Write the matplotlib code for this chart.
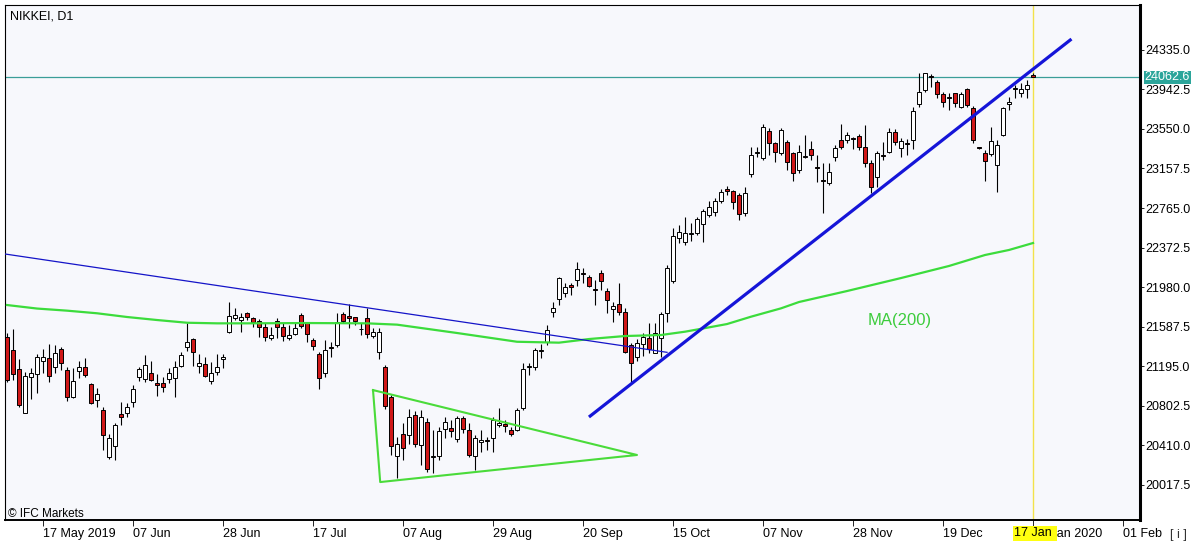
import matplotlib
matplotlib.use('Agg')
import matplotlib.pyplot as plt
from matplotlib.transforms import blended_transform_factory

plt.rcParams['font.family'] = ['Liberation Sans', 'DejaVu Sans']

# daily OHLC, one bar per trading day (index 0 = first visible bar)
opens = [21480, 21354, 21162, 20731, 21089, 21116, 21242, 21272, 21182, 21361,
         21155, 20890, 21142, 21182, 21016, 20857, 20758, 20294, 20403, 20715,
         20725, 20840, 21089, 21066, 21123, 21023, 21023, 21066, 21073, 21195,
         21387, 21463, 21198, 21212, 21049, 21133, 21265, 21536, 21675, 21652,
         21722, 21675, 21642, 21580, 21476, 21642, 21586, 21476, 21513, 21702,
         21619, 21453, 21314, 21123, 21387, 21404, 21709, 21695, 21679, 21563,
         21675, 21496, 21331, 21182, 20884, 20301, 20516, 20509, 20708, 20410,
         20636, 20294, 20301, 20566, 20576, 20467, 20675, 20559, 20301, 20443,
         20460, 20477, 20609, 20616, 20559, 20559, 20775, 21182, 21188, 21344,
         21437, 21735, 21858, 21923, 21997, 22050, 22116, 22076, 21954, 22116,
         21940, 21765, 21811, 21735, 21404, 21288, 21414, 21470, 21327, 21473,
         21725, 22043, 22464, 22430, 22507, 22520, 22606, 22696, 22728, 22838,
         22951, 22934, 22891, 22712, 23103, 23315, 23265, 23533, 23408, 23315,
         23424, 23309, 23143, 23275, 23348, 23166, 23043, 23010, 23275, 23441,
         23441, 23458, 23480, 23368, 23215, 23076, 23292, 23325, 23523, 23358,
         23408, 23441, 23799, 23938, 24077, 24020, 23898, 23871, 23905, 23772,
         23945, 23756, 23368, 23309, 23302, 23193, 23490, 23796, 23951, 23911,
         23945, 24087]
highs = [21526, 21563, 21265, 21138, 21172, 21314, 21364, 21411, 21404, 21381,
         21182, 21172, 21245, 21275, 21023, 20973, 20791, 20519, 20626, 20840,
         20830, 21006, 21182, 21304, 21245, 21113, 21089, 21172, 21245, 21337,
         21625, 21470, 21314, 21288, 21238, 21314, 21314, 21834, 21771, 21722,
         21735, 21685, 21662, 21622, 21586, 21672, 21619, 21602, 21629, 21719,
         21635, 21470, 21337, 21453, 21437, 21719, 21729, 21808, 21685, 21619,
         21776, 21570, 21570, 21205, 20907, 20492, 20626, 20768, 20751, 20758,
         20675, 20559, 20592, 20691, 20658, 20701, 20698, 20626, 20509, 20559,
         20493, 20691, 20775, 20658, 20592, 20775, 21228, 21222, 21377, 21411,
         21602, 21834, 22076, 22017, 22017, 22232, 22166, 22099, 22050, 22149,
         21967, 21834, 22017, 21768, 21420, 21460, 21520, 21625, 21619, 21735,
         22198, 22563, 22596, 22673, 22613, 22673, 22752, 22838, 22861, 22951,
         22984, 22944, 22911, 22977, 23368, 23374, 23600, 23557, 23424, 23557,
         23441, 23325, 23391, 23490, 23434, 23292, 23209, 23209, 23391, 23600,
         23523, 23467, 23500, 23590, 23242, 23334, 23424, 23557, 23547, 23458,
         23448, 23772, 24104, 24110, 24097, 24037, 23921, 23905, 23911, 23921,
         23955, 23779, 23376, 23341, 23567, 23441, 23772, 23871, 23984, 24004,
         24037, 24104]
lows = [21039, 21056, 20791, 20725, 20864, 20924, 21123, 21033, 21129, 21155,
        20850, 20874, 21079, 21089, 20817, 20785, 20360, 20268, 20261, 20609,
        20691, 20785, 21049, 21039, 21046, 20900, 20940, 21023, 20884, 21182,
        21347, 21198, 21123, 21089, 21013, 21106, 21172, 21523, 21652, 21536,
        21652, 21586, 21486, 21446, 21453, 21470, 21446, 21453, 21503, 21570,
        21436, 21354, 20964, 21089, 21287, 21387, 21619, 21570, 21602, 21503,
        21470, 21470, 21262, 20768, 20311, 20079, 20261, 20420, 20393, 20211,
        20145, 20129, 20261, 20477, 20493, 20443, 20526, 20294, 20162, 20343,
        20360, 20343, 20589, 20542, 20500, 20552, 20758, 21106, 21155, 21272,
        21404, 21685, 21801, 21884, 21901, 21990, 22023, 21983, 21801, 21950,
        21719, 21635, 21702, 21324, 21039, 21248, 21294, 21327, 21321, 21282,
        21635, 22017, 22414, 22397, 22440, 22497, 22430, 22679, 22686, 22812,
        22894, 22752, 22646, 22686, 23076, 23275, 23242, 23292, 23225, 23292,
        23143, 23036, 23110, 23259, 23242, 23026, 22712, 22994, 23235, 23348,
        23408, 23348, 23341, 23175, 22917, 22971, 23242, 23309, 23391, 23272,
        23292, 23348, 23772, 23921, 23970, 23855, 23772, 23739, 23772, 23762,
        23772, 23414, 23348, 23036, 23282, 22927, 23480, 23739, 23855, 23865,
        23855, 24064]
closes = [21056, 21113, 20808, 21099, 21123, 21282, 21282, 21099, 21321, 21222,
          20890, 21046, 21182, 21106, 20824, 20917, 20506, 20477, 20609, 20691,
          20785, 20964, 21162, 21202, 21056, 21009, 20989, 21123, 21188, 21304,
          21430, 21337, 21222, 21099, 21129, 21188, 21288, 21692, 21702, 21685,
          21679, 21629, 21586, 21486, 21503, 21586, 21493, 21503, 21570, 21596,
          21510, 21397, 21079, 21354, 21374, 21635, 21642, 21669, 21642, 21558,
          21510, 21530, 21530, 20798, 20400, 20420, 20377, 20685, 20420, 20691,
          20169, 20301, 20549, 20642, 20549, 20681, 20566, 20311, 20477, 20460,
          20447, 20658, 20626, 20599, 20516, 20758, 21162, 21195, 21354, 21354,
          21553, 21768, 22066, 21977, 21977, 22156, 22109, 21993, 21950, 22043,
          21851, 21791, 21729, 21337, 21228, 21420, 21480, 21361, 21520, 21712,
          22166, 22487, 22530, 22520, 22514, 22653, 22735, 22778, 22838, 22924,
          22934, 22828, 22705, 22911, 23292, 23325, 23567, 23408, 23325, 23540,
          23225, 23110, 23325, 23282, 23292, 23160, 23036, 23126, 23358, 23374,
          23490, 23451, 23374, 23215, 22977, 23309, 23282, 23523, 23418, 23434,
          23401, 23732, 23915, 24104, 24064, 23898, 23815, 23861, 23811, 23898,
          23789, 23441, 23358, 23235, 23431, 23391, 23756, 23822, 23961, 23945,
          23987, 24062.6]

# 200-day moving average, read at a few bars
ma_bars = [0, 5, 10, 15, 20, 25, 30, 35, 40, 50, 60, 65, 75, 85, 92, 97, 103,
           109, 113, 117, 120, 124, 129, 132, 140, 149, 157, 163, 167, 171]
ma_vals = [21801, 21766, 21745, 21719, 21682, 21652, 21625, 21619, 21619, 21622,
           21619, 21606, 21523, 21436, 21427, 21463, 21493, 21503, 21536, 21579,
           21612, 21685, 21768, 21831, 21940, 22069, 22189, 22298, 22348, 22417]

# drawn objects: (bar, price) anchors
thin_line = [(-0.33, 22308), (110, 21331)]
trend_line = [(97.2, 20698), (177.2, 24434)]
triangle = [(61, 20956), (62.2, 20042), (105, 20311), (61, 20956)]

last_price = 24062.6
date_bars = [6, 21, 36, 51, 66, 81, 96, 111, 126, 141, 156, 171, 186]
date_labels = ['17 May 2019', '07 Jun', '28 Jun', '17 Jul', '07 Aug', '29 Aug',
               '20 Sep', '15 Oct', '07 Nov', '28 Nov', '19 Dec', '17 Jan 2020',
               '01 Feb']
price_ticks = [20017.5, 20410.0, 20802.5, 21195.0, 21587.5, 21980.0, 22372.5,
               22765.0, 23157.5, 23550.0, 23942.5, 24335.0]

fig = plt.figure(figsize=(11.94, 5.45), dpi=100)
ax = fig.add_axes([5 / 1194, 25 / 545, 1135 / 1194, 515 / 545])
ax.set_facecolor('#F7F8FC')

for i in range(len(opens)):
    o, h, l, c = opens[i], highs[i], lows[i], closes[i]
    ax.vlines(i, l, h, color='black', lw=0.8, zorder=2)
    body = max(abs(c - o), 8)
    col = 'white' if c >= o else '#D01818'
    ax.bar(i, body, bottom=min(o, c), width=0.66, color=col,
           edgecolor='black', linewidth=0.7, zorder=3)

ax.plot(ma_bars, ma_vals, color='#3CDC3C', lw=1.6, zorder=4)
ax.plot([p[0] for p in thin_line], [p[1] for p in thin_line], color='#1414C8', lw=0.9, zorder=4)
ax.plot([p[0] for p in trend_line], [p[1] for p in trend_line], color='#1515D8', lw=2.3, zorder=4)
ax.plot([p[0] for p in triangle], [p[1] for p in triangle], color='#4ADB3A', lw=1.5, zorder=4)

ax.axhline(last_price, color='#3A9E98', lw=0.9, zorder=1)
ax.axvline(len(opens) - 1, color='#F2E24A', lw=1, zorder=1)

ax.text(143.5, 21649, 'MA(200)', color='#3CCC3C', fontsize=12, ha='left', va='center')

ax.set_xlim(-0.333, 188.83)
ax.set_ylim(19665, 24782)

for s in ['top', 'left']:
    ax.spines[s].set_linewidth(0.8)
ax.spines['right'].set_linewidth(2.2)
ax.spines['bottom'].set_linewidth(1.4)

ax.yaxis.tick_right()
ax.set_yticks(price_ticks)
ax.set_yticklabels(['%.1f' % v for v in price_ticks])
ax.tick_params(axis='y', direction='out', length=3, width=0.6, labelsize=9, pad=1)
ax.set_xticks(date_bars)
ax.set_xticklabels(date_labels)
for lbl in ax.get_xticklabels():
    lbl.set_ha('left')
ax.tick_params(axis='x', direction='out', length=4, width=0.6, labelsize=9, pad=2)

ax.text(1.004, last_price, '%.1f' % last_price, transform=ax.get_yaxis_transform(),
        ha='left', va='center', color='white', fontsize=9, zorder=5, clip_on=False,
        bbox=dict(facecolor='#2BA59A', edgecolor='none', pad=0.6))

# yellow date marker sits over the start of the '17 Jan 2020' label, as in the terminal
xtrans = blended_transform_factory(ax.transData, ax.transAxes)
ax.text(len(opens) - 1 + 0.3, -0.026, '17 Jan ', transform=xtrans, ha='center', va='center',
        fontsize=9, zorder=5, clip_on=False,
        bbox=dict(facecolor='#FFFF10', edgecolor='none', pad=0.8))

ax.text(0.0044, 0.977, 'NIKKEI, D1', transform=ax.transAxes, fontsize=9,
        ha='left', va='center')
ax.text(0.003, 0.012, '\u00a9 IFC Markets', transform=ax.transAxes, fontsize=8.5,
        ha='left', va='center')
fig.text(1170 / 1194, 1 - 535 / 545, '[ i ]', fontsize=9, ha='left', va='center',
         color='#333333')

fig.savefig('out.png', dpi=100)
